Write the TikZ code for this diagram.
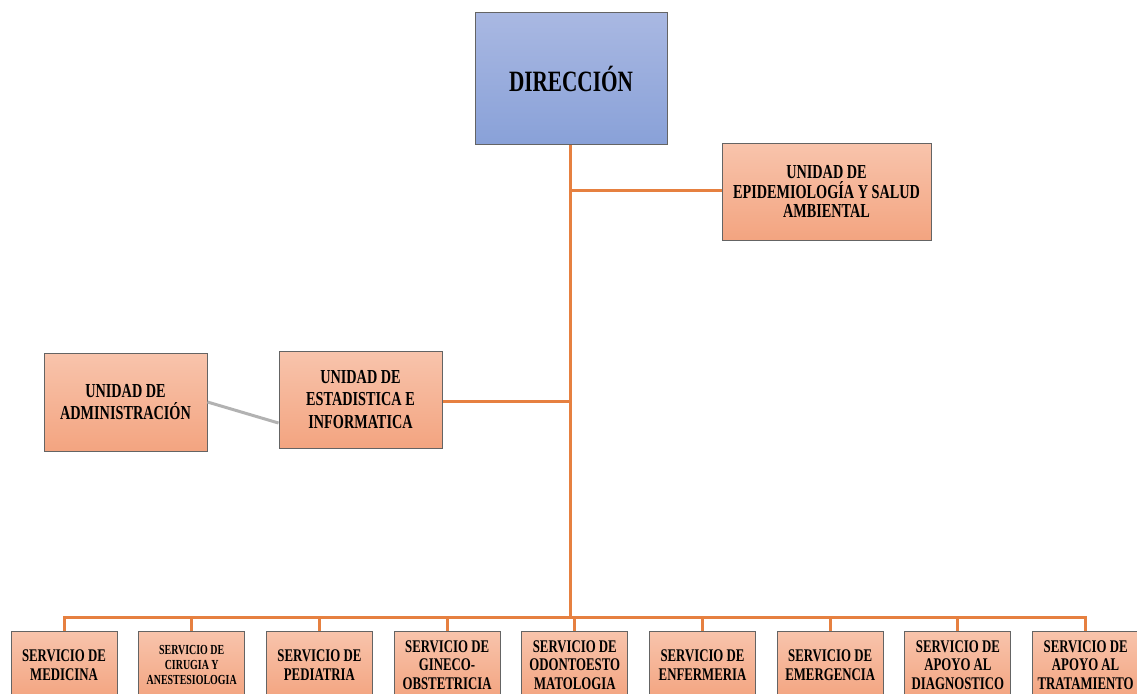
\documentclass[tikz,border=0pt]{standalone}
\usepackage{fontspec}
\setmainfont{Liberation Serif}[FakeStretch=0.72]
\usetikzlibrary{calc}
\definecolor{salmonTop}{RGB}{248,196,172}
\definecolor{salmonBot}{RGB}{243,164,128}
\definecolor{blueTop}{RGB}{169,184,226}
\definecolor{blueBot}{RGB}{137,161,216}
\definecolor{linkOrange}{RGB}{230,128,64}
\definecolor{linkGray}{RGB}{178,178,178}
\definecolor{boxEdge}{RGB}{100,100,100}
\tikzset{
  unitbox/.style={draw=boxEdge, line width=1pt, shading=axis,
    top color=salmonTop, bottom color=salmonBot, align=center,
    inner sep=2pt, text=black},
  headbox/.style={unitbox, top color=blueTop, bottom color=blueBot,
    minimum width=192pt, minimum height=131pt,
    font=\bfseries\fontsize{29.5}{32}\selectfont},
  midbox/.style={unitbox, font=\bfseries\fontsize{19.8}{19.5}\selectfont},
  servbox/.style={unitbox, minimum width=106pt, minimum height=68pt,
    font=\bfseries\fontsize{17.8}{18.5}\selectfont},
  smallserv/.style={servbox, font=\bfseries\fontsize{13.8}{15}\selectfont},
  link/.style={draw=linkOrange, line width=3pt},
}
\begin{document}
\begin{tikzpicture}[x=1pt,y=-1pt]
\useasboundingbox (0,0) rectangle (1137,693);
\clip (0,0) rectangle (1137,693);

% top of the hierarchy
\node[headbox] (dir) at (571,78.5) {DIRECCIÓN};

% staff units
\node[midbox, minimum width=209pt, minimum height=97pt] (epi) at (826.5,191.5)
  {UNIDAD DE\\EPIDEMIOLOGÍA Y SALUD\\AMBIENTAL};
\node[midbox, minimum width=163pt, minimum height=98pt,
  font=\bfseries\fontsize{19.8}{22}\selectfont] (adm) at (125.5,402)
  {UNIDAD DE\\ADMINISTRACIÓN};
\node[midbox, minimum width=163pt, minimum height=97pt,
  font=\bfseries\fontsize{19.8}{22.5}\selectfont] (est) at (360.5,399.5)
  {UNIDAD DE\\ESTADISTICA E\\INFORMATICA};

% services row
\foreach \i/\txt/\sty in {
  0/{SERVICIO DE\\MEDICINA}/servbox,
  1/{SERVICIO DE\\CIRUGIA Y\\ANESTESIOLOGIA}/smallserv,
  2/{SERVICIO DE\\PEDIATRIA}/servbox,
  3/{SERVICIO DE\\GINECO-\\OBSTETRICIA}/servbox,
  4/{SERVICIO DE\\ODONTOESTO\\MATOLOGIA}/servbox,
  5/{SERVICIO DE\\ENFERMERIA}/servbox,
  6/{SERVICIO DE\\EMERGENCIA}/servbox,
  7/{SERVICIO DE\\APOYO AL\\DIAGNOSTICO}/servbox,
  8/{SERVICIO DE\\APOYO AL\\TRATAMIENTO}/servbox} {
  \node[\sty] (s\i) at (64+127.7*\i,665) {\txt};
}

% connectors
\coordinate (bus) at (570,617);
\coordinate (tepi) at (570,190);
\coordinate (test) at (570,401);
\draw[link] (dir.south -| bus) -- (bus);
\draw[link] (tepi) -- (tepi -| epi.west);
\draw[link] (test) -- (test -| est.east);
\draw[link, line cap=rect] (s0.north |- bus) -- (s8.north |- bus);
\foreach \i in {0,...,8} {
  \draw[link] (s\i.north |- bus) -- (s\i.north);
}
\draw[draw=linkGray, line width=3pt]
  (adm.east) -- ($(est.south west)!0.26!(est.north west)$);
\end{tikzpicture}
\end{document}
